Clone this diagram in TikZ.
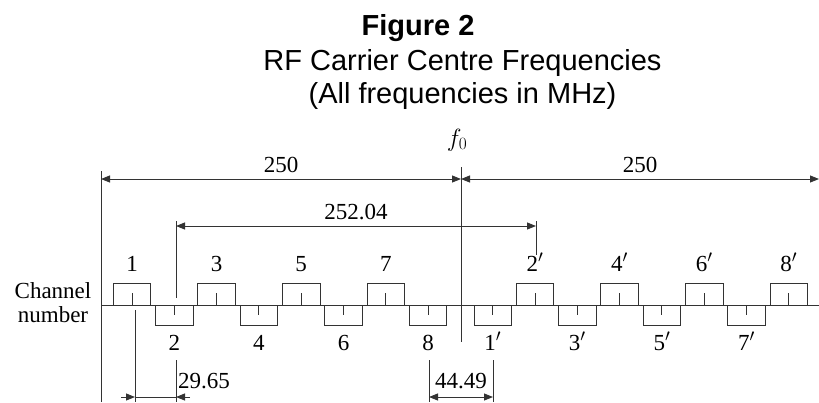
\documentclass[tikz,border=0pt]{standalone}
\usepackage{fontspec}
\setmainfont{Liberation Serif}
\newfontfamily\titlefont{Liberation Sans}
\usetikzlibrary{arrows.meta}
\definecolor{rulegray}{HTML}{333333}

\begin{document}
\begin{tikzpicture}[
  x=1pt, y=-1pt,
  every node/.style={font=\fontsize{23}{24}\selectfont, inner sep=0pt},
  titletext/.style={font=\titlefont\fontsize{29}{34}\selectfont, anchor=base},
  titlebold/.style={font=\titlefont\bfseries\fontsize{29}{34}\selectfont, anchor=base},
  rule/.style={draw=rulegray, line width=0.9pt},
  dimline/.style={rule, {Triangle[length=9pt,width=7pt]}-{Triangle[length=9pt,width=7pt]}},
  tipline/.style={rule, -{Triangle[length=9pt,width=7pt]}},
  upbox/.style={rule, minimum width=37.5pt, minimum height=22pt,
    path picture={\draw[rule] (path picture bounding box.south) -- ++(0,12pt);},
    label={[anchor=base, label distance=11pt]above:#1}},
  downbox/.style={rule, minimum width=37.5pt, minimum height=20pt,
    path picture={\draw[rule] (path picture bounding box.north) -- ++(0,-10pt);},
    label={[anchor=base, label distance=25pt]below:#1}},
]
\useasboundingbox (0,0) rectangle (819,402);

% title
\node[titlebold] (fig) at (418,35) {Figure 2};
\node[titletext] (title) at (462.5,70) {RF Carrier Centre Frequencies};
\node[titletext] (units) at (462.5,103) {(All frequencies in MHz)};

% axis and reference lines
\coordinate (axL) at (102,305);
\coordinate (axR) at (819,305);
\draw[rule] (axL) -- (axR);
\coordinate (leftTop) at (101,171);
\coordinate (leftBot) at (101,402);
\draw[rule] (leftTop) -- (leftBot);
\coordinate (fTop) at (461,167);
\coordinate (fBot) at (461,342);
\draw[rule] (fTop) -- (fBot);
\node[anchor=base] (f0) at (457,146) {$f_0$};
\node[align=center] (chname) at (53,303) {Channel\\number};

% channels below f0
\node[upbox=1] (ch1) at (132,294) {};
\node[downbox=2] (ch2) at (174.3,315) {};
\node[upbox=3] (ch3) at (216.6,294) {};
\node[downbox=4] (ch4) at (258.9,315) {};
\node[upbox=5] (ch5) at (301.2,294) {};
\node[downbox=6] (ch6) at (343.5,315) {};
\node[upbox=7] (ch7) at (385.8,294) {};
\node[downbox=8] (ch8) at (428.1,315) {};

% channels above f0
\node[downbox={1$'$}] (chp1) at (492.7,315) {};
\node[upbox={2$'$}] (chp2) at (535,294) {};
\node[downbox={3$'$}] (chp3) at (577.3,315) {};
\node[upbox={4$'$}] (chp4) at (619.6,294) {};
\node[downbox={5$'$}] (chp5) at (661.9,315) {};
\node[upbox={6$'$}] (chp6) at (704.2,294) {};
\node[downbox={7$'$}] (chp7) at (746.5,315) {};
\node[upbox={8$'$}] (chp8) at (788.8,294) {};

% 250 spans
\coordinate (span1) at (101,179);
\coordinate (span2) at (461,179);
\coordinate (span3) at (819,179);
\draw[dimline] (span1) -- node[midway, above=6pt] (lowspan) {250} (span2);
\draw[dimline] (span2) -- node[midway, above=6pt] (highspan) {250} (span3);

% duplex spacing
\coordinate (dupTopA) at (176,221);
\coordinate (dupBotA) at (176,298);
\coordinate (dupTopB) at (536,221);
\coordinate (dupBotB) at (536,255);
\draw[rule] (dupTopA) -- (dupBotA);
\draw[rule] (dupTopB) -- (dupBotB);
\coordinate (dupA) at (176,226);
\coordinate (dupB) at (536,226);
\draw[dimline] (dupA) -- node[midway, above=6pt] (duplex) {252.04} (dupB);

% 29.65 spacing
\coordinate (gapTopA) at (135,310);
\coordinate (gapBotA) at (135,402);
\coordinate (gapTopB) at (176,360);
\coordinate (gapBotB) at (176,402);
\draw[rule] (gapTopA) -- (gapBotA);
\draw[rule] (gapTopB) -- (gapBotB);
\coordinate (gapA) at (135,397);
\coordinate (gapB) at (176,397);
\coordinate (gapOutA) at (121,397);
\coordinate (gapOutB) at (190,397);
\draw[tipline] (gapOutA) -- (gapA);
\draw[rule] (gapA) -- (gapB);
\draw[tipline] (gapOutB) -- (gapB);
\node[anchor=base west] (chanstep) at (178,388) {29.65};

% 44.49 spacing
\coordinate (cenTopA) at (429,360);
\coordinate (cenBotA) at (429,402);
\coordinate (cenTopB) at (493,360);
\coordinate (cenBotB) at (493,402);
\draw[rule] (cenTopA) -- (cenBotA);
\draw[rule] (cenTopB) -- (cenBotB);
\coordinate (cenA) at (429,397);
\coordinate (cenB) at (493,397);
\draw[dimline] (cenA) -- (cenB);
\node[anchor=base] (centregap) at (461,388) {44.49};

\end{tikzpicture}
\end{document}
